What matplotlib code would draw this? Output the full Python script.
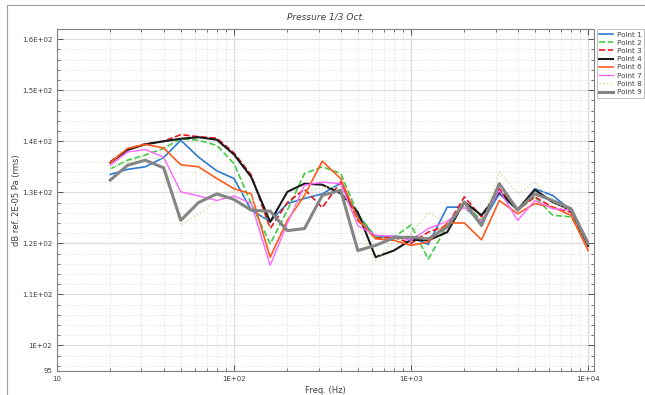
import matplotlib.pyplot as plt
from matplotlib.ticker import FixedLocator, MultipleLocator, LogLocator, NullFormatter
from matplotlib.patches import Rectangle

# 1/3 octave band centre frequencies (Hz)
freqs = [20, 25, 31.5, 40, 50, 63, 80, 100, 125, 160, 200, 250, 315, 400, 500,
         630, 800, 1000, 1250, 1600, 2000, 2500, 3150, 4000, 5000, 6300, 8000, 10000]

point1 = [133.5, 134.5, 135.0, 136.8, 140.2, 136.9, 134.2, 132.7, 126.5, 124.3, 127.8, 128.8, 129.7, 131.8,
          125.5, 121.2, 121.4, 121.2, 119.8, 127.1, 127.1, 123.9, 129.7, 126.5, 130.7, 129.4, 126.5, 120.0]
point2 = [134.6, 136.3, 137.3, 138.6, 140.5, 140.2, 139.2, 135.6, 127.8, 119.9, 126.5, 133.7, 135.0, 133.7,
          125.8, 121.2, 121.2, 123.6, 116.9, 123.5, 127.8, 124.5, 130.4, 126.5, 129.1, 125.5, 125.2, 119.8]
point3 = [136.0, 138.5, 139.5, 140.0, 141.3, 140.9, 140.6, 137.7, 133.4, 122.9, 128.0, 130.6, 127.0, 132.0,
          124.5, 121.0, 121.2, 120.0, 122.2, 123.5, 129.1, 125.2, 130.7, 126.5, 129.1, 127.1, 126.1, 119.8]
point4 = [135.8, 138.3, 139.4, 140.0, 140.5, 140.8, 140.3, 137.4, 133.0, 124.2, 130.1, 131.7, 131.5, 129.8,
          126.1, 117.3, 118.6, 120.7, 120.6, 122.2, 128.1, 125.5, 130.1, 126.6, 130.5, 128.1, 126.5, 119.5]
point6 = [135.8, 138.6, 139.4, 138.7, 135.4, 135.0, 132.7, 130.7, 129.7, 117.3, 124.5, 129.4, 136.1, 132.7,
          124.8, 120.9, 120.6, 119.6, 120.3, 124.0, 124.0, 120.7, 128.4, 125.8, 127.8, 127.1, 125.5, 118.6]
point7 = [135.3, 137.9, 138.4, 136.9, 130.1, 129.3, 128.4, 129.3, 127.8, 115.7, 123.9, 131.4, 132.0, 131.7,
          123.5, 121.6, 121.4, 120.6, 122.9, 124.3, 127.1, 124.3, 130.4, 124.5, 128.4, 126.8, 126.5, 119.8]
point8 = [134.7, 136.0, 136.9, 136.6, 123.5, 125.8, 128.4, 130.4, 129.1, 122.9, 124.8, 130.0, 131.0, 131.0,
          123.2, 116.7, 120.3, 121.8, 126.1, 123.9, 127.1, 123.2, 134.0, 129.7, 132.0, 128.1, 126.5, 119.8]
point9 = [132.4, 135.3, 136.3, 134.8, 124.5, 128.0, 129.7, 128.6, 126.5, 126.3, 122.5, 122.9, 129.4, 130.4,
          118.6, 119.6, 121.1, 121.2, 120.9, 123.2, 128.1, 123.5, 131.7, 126.5, 129.7, 128.4, 126.8, 120.0]

labels = ["Point 1", "Point 2", "Point 3", "Point 4", "Point 6", "Point 7", "Point 8", "Point 9"]
series = [point1, point2, point3, point4, point6, point7, point8, point9]
colors = ["#2b7bd0", "#44cc44", "#e8141e", "#1a1a1a", "#ff5a1e", "#ff66ff", "#c8e6a0", "#858585"]
styles = ["-", "--", "--", "-", "-", "-", ":", "-"]
widths = [1.2, 1.2, 1.2, 1.5, 1.2, 1.0, 1.0, 2.2]

fig = plt.figure(figsize=(6.45, 3.95), dpi=100)
ax = fig.add_axes([0.0884, 0.0608, 0.8326, 0.8658])

# thin grey frame around the whole chart (runs off the right edge)
fig.patches.append(Rectangle((7 / 645, -0.01), 0.99, 0.997, transform=fig.transFigure,
                             fill=False, edgecolor="#a0a0a0", linewidth=0.8))

for y, lab, c, ls, lw in zip(series, labels, colors, styles, widths):
    ax.plot(freqs, y, color=c, linestyle=ls, linewidth=lw, label=lab)

ax.set_xscale("log")
ax.set_xlim(10, 10800)
ax.set_ylim(95, 162)

ax.xaxis.set_major_locator(FixedLocator([10, 100, 1000, 10000]))
ax.set_xticklabels(["10", "1E+02", "1E+03", "1E+04"])
ax.xaxis.set_minor_locator(LogLocator(base=10, subs=range(2, 10)))
ax.xaxis.set_minor_formatter(NullFormatter())

ax.yaxis.set_major_locator(FixedLocator([95, 100, 110, 120, 130, 140, 150, 160]))
ax.set_yticklabels(["95", "1E+02", "1.1E+02", "1.2E+02", "1.3E+02", "1.4E+02", "1.5E+02", "1.6E+02"])
ax.yaxis.set_minor_locator(MultipleLocator(2))

ax.grid(which="major", color="#dcdcdc", linewidth=0.9, linestyle="-")
ax.grid(which="minor", color="#d4d4d4", linewidth=0.6, linestyle=(0, (1, 2)))
ax.set_axisbelow(True)

ax.tick_params(which="both", direction="in", top=True, right=True, labelsize=5, colors="#404040")
ax.tick_params(which="major", length=4, width=0.6)
ax.tick_params(which="minor", length=2, width=0.5)
for s in ax.spines.values():
    s.set_color("#808080")
    s.set_linewidth(0.8)

ax.set_title("Pressure 1/3 Oct.", fontsize=6.5, style="italic", color="#404040", pad=7)
ax.set_xlabel("Freq. (Hz)", fontsize=6, color="#404040", labelpad=3)
ax.set_ylabel("dB ref. 2E-05 Pa (rms)", fontsize=6, color="#404040")
ax.yaxis.set_label_coords(-0.068, 0.5)

leg = ax.legend(loc="upper left", bbox_to_anchor=(1.005, 1.0), fontsize=5.2, frameon=True,
                fancybox=False, borderpad=0.35, labelspacing=0.3, handlelength=1.9,
                handletextpad=0.5, borderaxespad=0.0)
leg.get_frame().set_edgecolor("#a0a0a0")
leg.get_frame().set_linewidth(0.6)
for t in leg.get_texts():
    t.set_color("#404040")

fig.savefig("out.png", dpi=100)
